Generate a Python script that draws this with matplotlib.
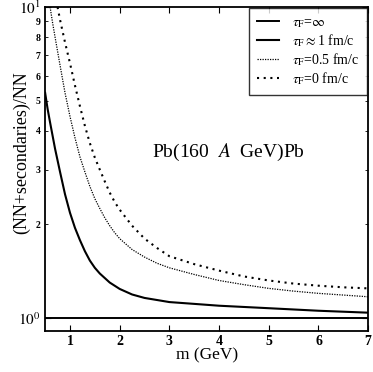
import numpy as np
from matplotlib import pyplot as plt
from matplotlib.ticker import FixedLocator, FixedFormatter

plt.rcParams['font.family'] = ['Liberation Serif', 'DejaVu Serif']
plt.rcParams['mathtext.fontset'] = 'stix'

# tau_F = infinity: flat at 1
m_inf = [0.5, 7.0]
r_inf = [1.0, 1.0]

# tau_F ~ 1 fm/c
m_1 = [0.5, 0.55, 0.6, 0.7, 0.8, 0.9, 1.0, 1.1, 1.2, 1.3, 1.4, 1.5, 1.6, 1.8, 2.0,
       2.25, 2.5, 3.0, 3.5, 4.0, 5.0, 6.0, 7.0]
r_1 = [5.3, 4.7, 4.25, 3.5, 2.95, 2.5, 2.18, 1.95, 1.78, 1.64, 1.53, 1.45, 1.39, 1.30, 1.24,
       1.19, 1.16, 1.125, 1.11, 1.095, 1.075, 1.055, 1.04]

# tau_F = 0.5 fm/c
m_05 = [0.6, 0.65, 0.7, 0.8, 0.9, 1.0, 1.1, 1.2, 1.3, 1.4, 1.5, 1.6, 1.7, 1.8, 1.9, 2.0,
        2.25, 2.5, 2.75, 3.0, 3.5, 4.0, 4.5, 5.0, 5.5, 6.0, 6.5, 7.0]
r_05 = [10.0, 8.9, 8.0, 6.5, 5.3, 4.45, 3.8, 3.3, 2.95, 2.65, 2.42, 2.25, 2.1, 1.98, 1.88, 1.80,
        1.66, 1.57, 1.50, 1.45, 1.38, 1.32, 1.28, 1.245, 1.22, 1.20, 1.185, 1.17]

# tau_F = 0 fm/c
m_0 = [0.75, 0.8, 0.9, 1.0, 1.1, 1.2, 1.3, 1.4, 1.5, 1.6, 1.7, 1.8, 1.9, 2.0,
       2.25, 2.5, 2.75, 3.0, 3.5, 4.0, 4.5, 5.0, 5.5, 6.0, 6.5, 7.0]
r_0 = [10.0, 9.1, 7.7, 6.6, 5.6, 4.8, 4.15, 3.65, 3.28, 3.0, 2.75, 2.53, 2.36, 2.23,
       1.98, 1.80, 1.68, 1.58, 1.49, 1.42, 1.36, 1.32, 1.29, 1.27, 1.255, 1.245]

labels = [r'$\tau_{\rm F}$=$\infty$', r'$\tau_{\rm F}$$\approx$1 fm/c',
          r'$\tau_{\rm F}$=0.5 fm/c', r'$\tau_{\rm F}$=0 fm/c']

fig = plt.figure(figsize=(3.73, 3.72), dpi=100)
ax = fig.add_axes([0.121, 0.111, 0.866, 0.870])

ax.plot(m_inf, r_inf, 'k-', lw=1.4, label=labels[0])
ax.plot(m_1, r_1, 'k-', lw=1.5, label=labels[1])
ax.plot(m_05, r_05, color='k', ls=(0, (1, 1)), lw=0.9, label=labels[2])
ax.plot(m_0, r_0, color='k', ls=(0, (1, 2.2)), lw=1.5, label=labels[3])

ax.set_yscale('log')
ax.set_xlim(0.5, 7.0)
ax.set_ylim(0.91, 10.0)

ax.set_xticks([1, 2, 3, 4, 5, 6, 7])
ax.set_xticklabels(['1', '2', '3', '4', '5', '6', '7'], fontsize=10, fontweight='bold')
ax.yaxis.set_major_locator(FixedLocator([1, 10]))
ax.yaxis.set_major_formatter(FixedFormatter([r'$10^0$', r'$10^1$']))
minors = [2, 3, 4, 5, 6, 7, 8, 9]
ax.yaxis.set_minor_locator(FixedLocator(minors))
ax.yaxis.set_minor_formatter(FixedFormatter([str(v) for v in minors]))
for t in ax.yaxis.get_majorticklabels():
    t.set_fontsize(11)
ax.tick_params(axis='y', which='minor', labelsize=7)
for t in ax.yaxis.get_minorticklabels():
    t.set_fontweight('bold')

ax.tick_params(which='both', direction='in', top=True, right=True)
ax.tick_params(which='major', length=4, pad=3)
ax.tick_params(which='minor', length=2)
for s in ax.spines.values():
    s.set_linewidth(1.3)

ax.set_xlabel('m (GeV)', fontsize=12.5, labelpad=0)
ax.set_ylabel('(NN+secondaries)/NN', fontsize=13)
ax.yaxis.set_label_coords(-0.045, 0.55)

ax.text(2.66, 3.4, 'Pb(160  $A$  GeV)Pb', fontsize=14, va='center', ha='left')

leg = ax.legend(loc='upper right', fontsize=10, frameon=True, fancybox=False,
                edgecolor='k', handlelength=1.6, handletextpad=0.9, borderpad=0.6,
                borderaxespad=0.05, labelspacing=0.15)
leg.get_frame().set_linewidth(1.0)

plt.savefig('out.png', dpi=100)
